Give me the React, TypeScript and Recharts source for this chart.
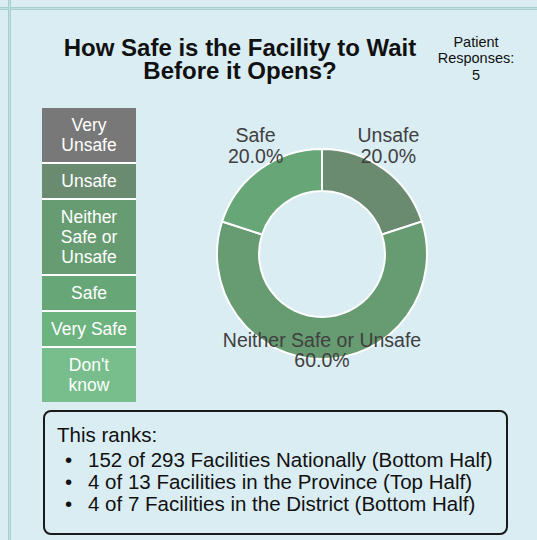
import React from "react";
import { PieChart, Pie, Cell, Legend } from "recharts";

// ── data ──────────────────────────────────────────────────────────────
const categories = [
  "Very Unsafe",
  "Unsafe",
  "Neither Safe or Unsafe",
  "Safe",
  "Very Safe",
  "Don't know",
];
const responses = [0, 1, 3, 1, 0, 0];
const colors = ["#787878", "#6b8b71", "#679c72", "#67a677", "#6db380", "#78be8c"];
const titleLines = ["How Safe is the Facility to Wait", "Before it Opens?"];
const rankLines = [
  "152 of 293 Facilities Nationally (Bottom Half)",
  "4 of 13 Facilities in the Province (Top Half)",
  "4 of 7 Facilities in the District (Bottom Half)",
];

const FONT = "'Liberation Sans', Arial, sans-serif";
const BG = "#daedf3";
const RADIAN = Math.PI / 180;

const totalResponses = responses.reduce((a, b) => a + b, 0);
const pieData = categories
  .map((name, i) => ({ name, value: responses[i], color: colors[i] }))
  .filter((d) => d.value > 0);

function renderLabel(props: any) {
  const { cx, cy, midAngle, outerRadius, name, percent } = props;
  const r = outerRadius + 8;
  const x = cx + r * Math.cos(-midAngle * RADIAN);
  const y = cy + r * Math.sin(-midAngle * RADIAN);
  return (
    <text
      x={x}
      y={y}
      textAnchor="middle"
      fill="#404040"
      fontSize={19.5}
      fontFamily={FONT}
    >
      <tspan x={x} y={y - 20.5}>
        {name}
      </tspan>
      <tspan x={x} y={y}>
        {(percent * 100).toFixed(1)}%
      </tspan>
    </text>
  );
}

function LegendBox() {
  return (
    <div style={{ width: 94, fontFamily: FONT }}>
      {categories.map((c, i) => (
        <div
          key={c}
          style={{
            background: colors[i],
            color: "#ffffff",
            fontSize: 17.5,
            lineHeight: "20px",
            padding: "7px 6px",
            textAlign: "center",
            borderBottom: i < categories.length - 1 ? "2px solid #ffffff" : "none",
          }}
        >
          {c}
        </div>
      ))}
    </div>
  );
}

export default function App() {
  return (
    <div
      style={{
        position: "absolute",
        left: 0,
        top: 0,
        width: 537,
        height: 540,
        background: BG,
        overflow: "hidden",
        fontFamily: FONT,
      }}
    >
      {/* table grid lines */}
      <div
        style={{
          position: "absolute",
          left: 0,
          top: 7,
          width: 537,
          height: 1,
          background: "#a8cfcf",
          boxShadow: "0 2px 0 #a8cfcf",
        }}
      />
      <div
        style={{
          position: "absolute",
          left: 0,
          top: 8,
          width: 537,
          height: 1,
          background: "#c3e0e0",
        }}
      />
      <div
        style={{
          position: "absolute",
          left: 8,
          top: 0,
          width: 3,
          height: 540,
          background: "#c3e0e0",
          borderLeft: "1px solid #a8cfcf",
          borderRight: "1px solid #a8cfcf",
          boxSizing: "border-box",
        }}
      />

      {/* title */}
      {titleLines.map((t, i) => (
        <div
          key={t}
          style={{
            position: "absolute",
            left: 40,
            top: 37 + i * 22.5,
            width: 400,
            textAlign: "center",
            fontWeight: "bold",
            fontSize: 24,
            lineHeight: "21px",
            color: "#111111",
          }}
        >
          {t}
        </div>
      ))}
      <div
        style={{
          position: "absolute",
          left: 426,
          top: 33.5,
          width: 100,
          textAlign: "center",
          fontSize: 14.5,
          lineHeight: "16.5px",
          color: "#111111",
        }}
      >
        Patient
        <br />
        Responses:
        <br />
        {totalResponses}
      </div>

      <div style={{ position: "absolute", left: 0, top: 0 }}>
        <PieChart
          width={537}
          height={400}
          margin={{ top: 0, right: 0, bottom: 0, left: 0 }}
        >
          <Pie
            data={pieData}
            dataKey="value"
            nameKey="name"
            cx={322}
            cy={254}
            innerRadius={63}
            outerRadius={105}
            startAngle={90}
            endAngle={-270}
            stroke="#ffffff"
            strokeWidth={2}
            label={renderLabel}
            labelLine={false}
            isAnimationActive={false}
          >
            {pieData.map((d) => (
              <Cell key={d.name} fill={d.color} />
            ))}
          </Pie>
          <Legend
            content={() => <LegendBox />}
            wrapperStyle={{ position: "absolute", left: 42, top: 108, width: 94 }}
          />
        </PieChart>
      </div>

      {/* ranks box */}
      <div
        style={{
          position: "absolute",
          left: 43,
          top: 410,
          width: 465,
          height: 125,
          boxSizing: "border-box",
          border: "2px solid #1a1a1a",
          borderRadius: 8,
          padding: "12px 12px",
          fontSize: 20.5,
          lineHeight: "22px",
          color: "#111111",
        }}
      >
        This ranks:
        <ul style={{ margin: "3px 0 0 0", paddingLeft: 31 }}>
          {rankLines.map((l) => (
            <li key={l} style={{ listStyle: "none", position: "relative" }}>
              <span style={{ position: "absolute", left: -23 }}>•</span>
              {l}
            </li>
          ))}
        </ul>
      </div>
    </div>
  );
}
